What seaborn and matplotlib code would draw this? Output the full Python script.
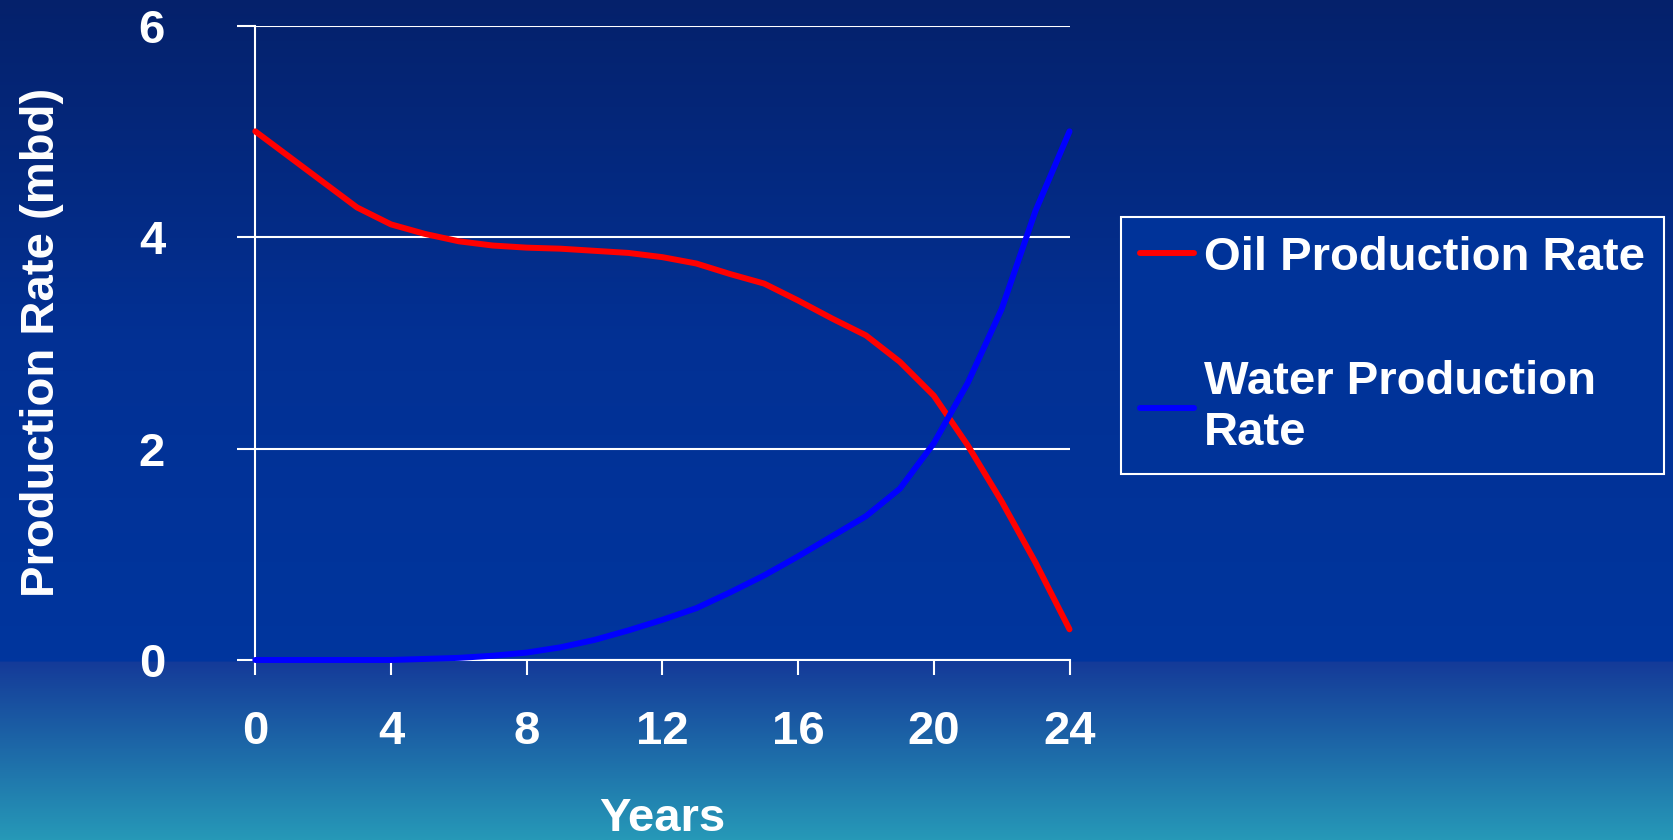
import numpy as np
import pandas as pd
import matplotlib
matplotlib.use('Agg')
import matplotlib.pyplot as plt
import seaborn as sns

# Data (yearly points)
years = list(range(0, 25))
oil_rate = [5.00, 4.76, 4.52, 4.28, 4.12, 4.03, 3.96, 3.92, 3.90, 3.89, 3.87, 3.85, 3.81,
            3.75, 3.65, 3.56, 3.40, 3.23, 3.07, 2.82, 2.50, 2.03, 1.50, 0.92, 0.29]
water_rate = [0.00, 0.00, 0.00, 0.00, 0.00, 0.01, 0.02, 0.04, 0.07, 0.12, 0.19, 0.28, 0.38,
              0.49, 0.64, 0.80, 0.98, 1.17, 1.36, 1.62, 2.05, 2.62, 3.32, 4.25, 5.00]
series_names = ['Oil Production Rate', 'Water Production\nRate']
x_ticks = [0, 4, 8, 12, 16, 20, 24]
y_ticks = [0, 2, 4, 6]

df = pd.DataFrame({
    'Years': years * 2,
    'Rate': oil_rate + water_rate,
    'Series': [series_names[0]] * len(years) + [series_names[1]] * len(years),
})

sns.set_style('white')
plt.rcParams['font.family'] = ['Liberation Sans', 'DejaVu Sans']
plt.rcParams['font.weight'] = 'bold'
fs = 34

fig = plt.figure(figsize=(16.74, 8.4), dpi=100)

# Background gradient (dark navy -> blue, then a lighter teal band at the bottom)
h = 840
pos = np.linspace(0, 1, h)
stops = [0.0, 0.4, 0.787, 0.789, 1.0]
r = np.interp(pos, stops, [0.02, 0.01, 0.00, 0.08, 0.15])
g = np.interp(pos, stops, [0.13, 0.19, 0.21, 0.23, 0.60])
b = np.interp(pos, stops, [0.42, 0.58, 0.62, 0.60, 0.72])
grad = np.stack([r, g, b], axis=1)[:, None, :].repeat(2, axis=1)
bg = fig.add_axes([0, 0, 1, 1])
bg.imshow(grad, aspect='auto', extent=[0, 1, 0, 1], interpolation='bilinear')
bg.axis('off')

ax = fig.add_axes([0.1525, 0.2143, 0.4864, 0.7552])
ax.patch.set_alpha(0)

sns.lineplot(data=df, x='Years', y='Rate', hue='Series',
             palette={series_names[0]: '#ff0000', series_names[1]: '#0000ff'},
             linewidth=4.3, ax=ax, legend=False, clip_on=False, zorder=3)

ax.set_xlim(0, 24)
ax.set_ylim(0, 6)
ax.set_xticks(x_ticks)
ax.set_yticks(y_ticks)
ax.yaxis.grid(True, color='white', linewidth=1.5)
ax.xaxis.grid(False)
for side in ['top', 'right']:
    ax.spines[side].set_visible(False)
for side in ['left', 'bottom']:
    ax.spines[side].set_color('white')
    ax.spines[side].set_linewidth(1.5)

ax.tick_params(axis='x', direction='out', length=11, width=1.5, color='white',
               labelcolor='white', labelsize=fs, pad=25, bottom=True)
ax.tick_params(axis='y', direction='out', length=13, width=1.5, color='white',
               labelcolor='white', labelsize=fs, pad=52, left=True)

ax.set_xlabel('Years', color='white', fontsize=fs, fontweight='bold', va='center')
ax.set_ylabel('Production Rate (mbd)', color='white', fontsize=fs, fontweight='bold', va='center')
ax.xaxis.set_label_coords(0.5, -0.25)
ax.yaxis.set_label_coords(-0.262, 0.5)

handles = [plt.Line2D([], [], color='#ff0000', linewidth=4.3),
           plt.Line2D([], [], color='#0000ff', linewidth=4.3)]
leg = fig.legend(handles, series_names, loc='upper left', bbox_to_anchor=(0.6697, 0.7417),
                 frameon=True, fancybox=False, fontsize=fs, handlelength=1.15,
                 handletextpad=0.2, labelspacing=1.7, borderpad=0.4, borderaxespad=0)
leg.get_frame().set_facecolor('#003399')
leg.get_frame().set_edgecolor('white')
leg.get_frame().set_linewidth(1.5)
leg.get_frame().set_alpha(1)
for t in leg.get_texts():
    t.set_color('white')
    t.set_fontweight('bold')

fig.savefig('out.png', dpi=100)
